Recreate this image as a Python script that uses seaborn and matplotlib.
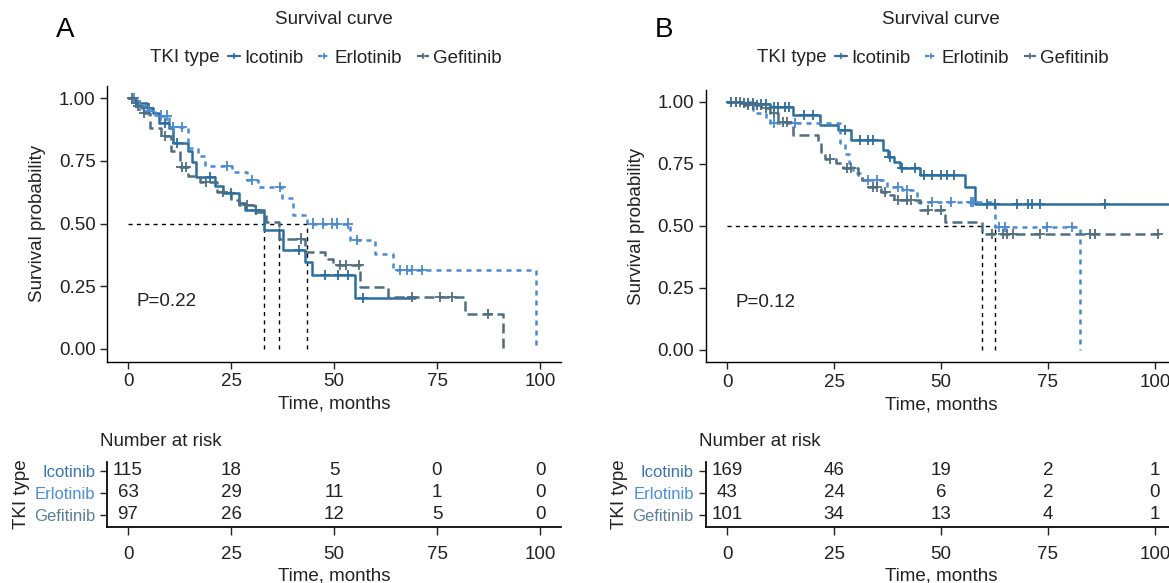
import matplotlib
matplotlib.use("Agg")
import matplotlib.pyplot as plt
import numpy as np
import pandas as pd
import seaborn as sns
from matplotlib.lines import Line2D

sns.set_theme(style="ticks")
plt.rcParams['font.family'] = ['Liberation Sans', 'DejaVu Sans']

# --- Dados ---
grupos = ["Icotinib", "Erlotinib", "Gefitinib"]
cores = {"Icotinib": "#2c6e9f", "Erlotinib": "#4a8ad2", "Gefitinib": "#4f6e80"}
cores_rotulo = {"Icotinib": "#3a76ad", "Erlotinib": "#4a8fd6", "Gefitinib": "#5b7f99"}
tracos = {"Icotinib": "", "Erlotinib": (2, 2), "Gefitinib": (4, 2)}

tempos_risco = [0, 25, 50, 75, 100]

# Painel A
a_ico_t = [0, 2, 4.5, 6, 7.5, 10, 11, 14.6, 15.5, 16.5, 21, 23, 27, 28.5, 33, 37.5, 43, 44.6, 55, 69.7]
a_ico_s = [1.0, 0.98, 0.96, 0.94, 0.90, 0.88, 0.82, 0.79, 0.745, 0.685, 0.65, 0.62, 0.58, 0.553, 0.474,
           0.394, 0.347, 0.295, 0.203, 0.203]
a_ico_c = [2, 5, 9, 12, 20, 25, 31, 41.5, 47.8, 51, 53.4, 57]

a_erl_t = [0, 2, 4, 6.5, 10, 14.6, 17, 18.7, 25.2, 28.8, 31.5, 37.4, 40, 43.4, 54, 60, 64.4, 99]
a_erl_s = [1.0, 0.97, 0.95, 0.93, 0.885, 0.80, 0.77, 0.73, 0.705, 0.673, 0.646, 0.60, 0.534, 0.50,
           0.434, 0.378, 0.315, 0.0]
a_erl_c = [1.5, 3, 5, 8, 9.5, 11, 13, 24, 30, 37, 45, 47.4, 49.5, 50.7, 53.4, 55.5, 66, 67.7, 69, 71.4]

a_gef_t = [0, 1.5, 3.5, 5.3, 8, 10.5, 12.6, 14.6, 17.5, 21.5, 25, 27, 30.5, 33.5, 36.7, 43, 47.8, 49.8,
           56.3, 63, 81.8, 91]
a_gef_s = [1.0, 0.97, 0.94, 0.88, 0.85, 0.79, 0.725, 0.69, 0.665, 0.626, 0.594, 0.574, 0.546, 0.506,
           0.44, 0.386, 0.36, 0.335, 0.247, 0.207, 0.14, 0.0]
a_gef_c = [1, 2.5, 4, 9, 13, 14, 19, 23, 29, 42, 51.5, 53, 56, 69, 75.7, 78.6, 87.4]

a_medianas = [33, 36.7, 43.4]
a_risco = {"Icotinib": [115, 18, 5, 0, 0], "Erlotinib": [63, 29, 11, 1, 0], "Gefitinib": [97, 26, 12, 5, 0]}
a_pvalor = "P=0.22"

# Painel B
b_ico_t = [0, 3, 7, 10, 15.4, 21.7, 26, 29, 36.5, 37.5, 39, 40.5, 45, 55.5, 58, 103]
b_ico_s = [1.0, 0.995, 0.99, 0.98, 0.948, 0.907, 0.887, 0.847, 0.806, 0.78, 0.758, 0.734, 0.706,
           0.657, 0.589, 0.589]
b_ico_c = [1, 2, 4, 5, 6, 8, 9, 11, 12, 13.5, 14.5, 18, 20, 27.5, 31, 33, 34, 38, 41, 44, 46, 48, 50,
           51.5, 53, 60.7, 62.6, 67.8, 70.3, 71.3, 73.1, 88.3]

b_erl_t = [0, 6, 9, 10, 26.4, 27.5, 28.5, 29.5, 31.5, 37.4, 41, 44.5, 62.6, 82.5]
b_erl_s = [1.0, 0.955, 0.935, 0.915, 0.835, 0.79, 0.754, 0.713, 0.685, 0.657, 0.645, 0.597, 0.496, 0.0]
b_erl_c = [11, 16, 33, 35, 40, 42, 48, 52.4, 57, 57.4, 63.5, 65, 74.7, 80.5]

b_gef_t = [0, 4, 8, 10, 12, 15.5, 21.3, 22, 23, 25.5, 27, 30.5, 31.5, 33, 36, 38, 39, 45, 51, 59.5, 101]
b_gef_s = [1.0, 0.988, 0.975, 0.955, 0.92, 0.867, 0.835, 0.798, 0.77, 0.754, 0.734, 0.706, 0.685,
           0.657, 0.637, 0.625, 0.605, 0.565, 0.516, 0.468, 0.468]
b_gef_c = [2, 3, 5, 6, 7, 9, 11, 13, 14, 24, 28, 29, 34, 35, 37, 40, 42, 43, 47, 50, 61.9, 64.5, 65.4,
           66.8, 73.1, 84.8, 86, 100.7]

b_medianas = [59.5, 62.6]
b_risco = {"Icotinib": [169, 46, 19, 2, 1], "Erlotinib": [43, 24, 6, 2, 0], "Gefitinib": [101, 34, 13, 4, 1]}
b_pvalor = "P=0.12"


def valor_na_curva(t_passos, s_passos, t):
    idx = np.searchsorted(t_passos, t, side="right") - 1
    return s_passos[idx]


def montar_tabelas(curvas):
    linhas, marcas = [], []
    for g, (tt, ss, cc) in curvas.items():
        linhas.append(pd.DataFrame({"tempo": tt, "sobrevida": ss, "grupo": g}))
        marcas.append(pd.DataFrame({"tempo": cc,
                                    "sobrevida": [valor_na_curva(np.array(tt), np.array(ss), c) for c in cc],
                                    "grupo": g}))
    return pd.concat(linhas, ignore_index=True), pd.concat(marcas, ignore_index=True)


W, H = 1169, 583
fig = plt.figure(figsize=(W / 100, H / 100), dpi=100)
FS = 13.5
COR_TXT = "#222222"


def fx(px):
    return px / W


def fy(py):
    return 1 - py / H


def alca_legenda(g):
    estilo = dict(color=cores[g], lw=1.6, marker="+", markersize=5, markeredgewidth=1.1)
    if tracos[g]:
        estilo["dashes"] = (1.5, 1.2) if g == "Erlotinib" else (2.5, 1.2)
    return Line2D([], [], **estilo)


def painel(letra, curvas, medianas, risco, pvalor, x0, px_mes, y_topo, y_base):
    esq = x0 - 5 * px_mes
    larg = 110 * px_mes
    ax = fig.add_axes([fx(esq), fy(y_base), larg / W, (y_base - y_topo) / H])
    df_linhas, df_marcas = montar_tabelas(curvas)

    sns.lineplot(data=df_linhas, x="tempo", y="sobrevida", hue="grupo", style="grupo",
                 hue_order=grupos, style_order=grupos, palette=cores, dashes=tracos,
                 estimator=None, sort=False, drawstyle="steps-post", linewidth=1.8,
                 legend=False, ax=ax)
    sns.scatterplot(data=df_marcas, x="tempo", y="sobrevida", hue="grupo", hue_order=grupos,
                    palette=cores, marker="+", s=55, linewidth=1.3, legend=False, ax=ax, zorder=4)

    # linhas das medianas
    ax.plot([0, max(medianas)], [0.5, 0.5], color="black", lw=1.0, ls=(0, (3, 3)), zorder=1)
    for m in medianas:
        ax.plot([m, m], [0, 0.5], color="black", lw=1.0, ls=(0, (3, 3)), zorder=1)

    ax.text(2, 0.19, pvalor, fontsize=FS, color=COR_TXT, va="center", ha="left")
    ax.set_xlim(-5, 105)
    ax.set_ylim(-0.05, 1.05)
    ax.set_xticks(tempos_risco)
    ax.set_yticks([0, 0.25, 0.5, 0.75, 1.0])
    ax.set_yticklabels(["0.00", "0.25", "0.50", "0.75", "1.00"])
    ax.set_xlabel("Time, months", fontsize=FS, color=COR_TXT, labelpad=4)
    ax.set_ylabel("Survival probability", fontsize=FS, color=COR_TXT, labelpad=9)
    ax.tick_params(labelsize=FS, colors=COR_TXT, length=5, width=1)
    sns.despine(ax=ax)
    for s in ["left", "bottom"]:
        ax.spines[s].set_color("black")
        ax.spines[s].set_linewidth(1.0)

    centro = esq + larg / 2
    fig.text(fx(centro), fy(20), "Survival curve", fontsize=FS, color=COR_TXT, ha="center", va="center")
    fig.text(fx(x0 - 72), fy(30), letra, fontsize=20, color="black", ha="left", va="center")

    # legenda
    fig.text(fx(centro - 184), fy(58), "TKI type", fontsize=FS, color=COR_TXT, ha="left", va="center")
    alcas = [alca_legenda(g) for g in grupos]
    fig.legend(alcas, grupos, loc="center left", bbox_to_anchor=(fx(centro - 106), fy(58)), ncol=3,
               frameon=False, fontsize=FS, handlelength=0.65, handletextpad=0.2, columnspacing=0.8,
               borderpad=0, borderaxespad=0, labelcolor=COR_TXT)

    # tabela de número em risco
    tab = fig.add_axes([fx(esq), fy(527), larg / W, 65 / H])
    for i, g in enumerate(grupos):
        for t, n in zip(tempos_risco, risco[g]):
            tab.text(t, 3 - i, str(n), fontsize=FS, color=COR_TXT, ha="center", va="center")
    tab.set_xlim(-5, 105)
    tab.set_ylim(0.45, 3.4)
    tab.set_xticks(tempos_risco)
    tab.set_yticks([3, 2, 1])
    tab.set_yticklabels(grupos, fontsize=12)
    for lbl, g in zip(tab.get_yticklabels(), grupos):
        lbl.set_color(cores_rotulo[g])
    tab.tick_params(axis="x", labelsize=FS, colors=COR_TXT, length=6, width=1, pad=8)
    tab.tick_params(axis="y", length=5, width=1, color=COR_TXT)
    tab.set_xlabel("Time, months", fontsize=FS, color=COR_TXT, labelpad=3)
    tab.set_ylabel("TKI type", fontsize=FS, color=COR_TXT, labelpad=3)
    sns.despine(ax=tab)
    for s in ["left", "bottom"]:
        tab.spines[s].set_color("black")
    fig.text(fx(esq - 7), fy(442), "Number at risk", fontsize=FS, color=COR_TXT, ha="left", va="center")


painel("A", {"Icotinib": (a_ico_t, a_ico_s, a_ico_c), "Erlotinib": (a_erl_t, a_erl_s, a_erl_c),
             "Gefitinib": (a_gef_t, a_gef_s, a_gef_c)},
       a_medianas, a_risco, a_pvalor, x0=128, px_mes=4.12, y_topo=85.5, y_base=361.5)
painel("B", {"Icotinib": (b_ico_t, b_ico_s, b_ico_c), "Erlotinib": (b_erl_t, b_erl_s, b_erl_c),
             "Gefitinib": (b_gef_t, b_gef_s, b_gef_c)},
       b_medianas, b_risco, b_pvalor, x0=727, px_mes=4.28, y_topo=89.6, y_base=362.4)

fig.savefig("out.png", dpi=100)
plt.close(fig)
